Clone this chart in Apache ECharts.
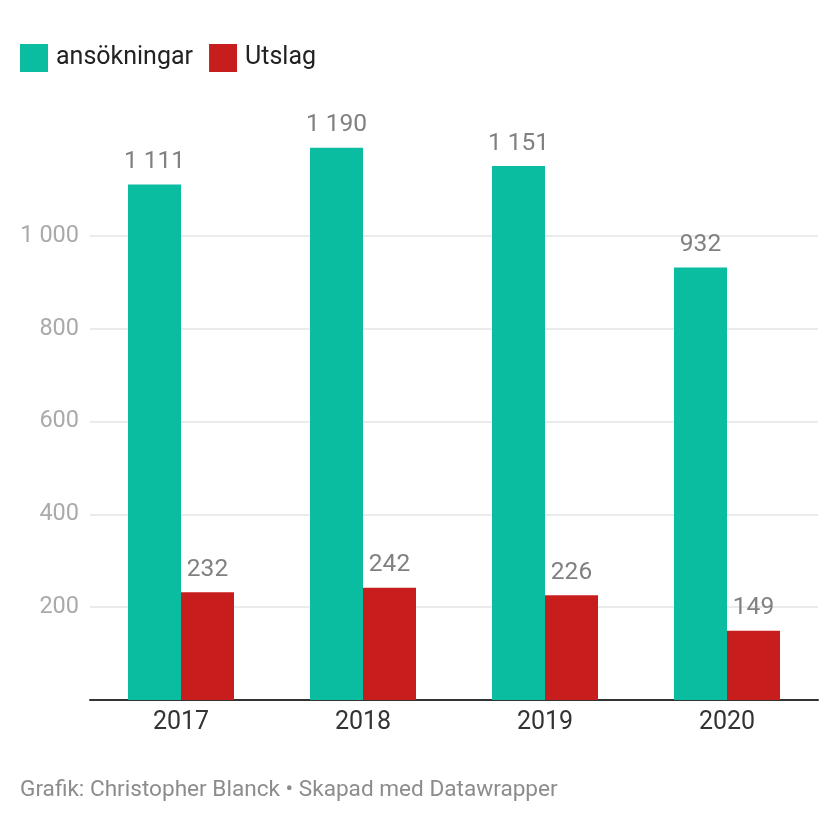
<!DOCTYPE html>
<html>
<head>
<meta charset="utf-8">
<script src="https://cdn.jsdelivr.net/npm/echarts@6/dist/echarts.min.js"></script>
<style>
  html, body { margin: 0; padding: 0; background: #fff; }
  #chart { width: 840px; height: 840px; }
</style>
</head>
<body>
<div id="chart"></div>
<script>
// data
const years = ['2017', '2018', '2019', '2020']
const ansokningar = [1111, 1190, 1151, 932]
const utslag = [232, 242, 226, 149]

// 1 111 with space as thousand separator
function fmt(v) {
    return String(v).replace(/\B(?=(\d{3})+(?!\d))/g, ' ')
}

let myChart = echarts.init(document.getElementById('chart'))

const labelStyle = {
    show: true,
    position: 'top',
    distance: 10,
    color: '#808080',
    fontSize: 24.5,
    fontFamily: 'Roboto',
    formatter: p => fmt(p.value)
}

option = {
    animation: false,
    textStyle: { fontFamily: 'Roboto' },
    legend: {
        left: 15,
        top: 39,
        itemWidth: 28,
        itemHeight: 28,
        itemGap: 16,
        icon: 'rect',
        textStyle: { fontSize: 25, color: '#222', padding: [0, 0, 0, 3] },
        data: ['ansökningar', 'Utslag']
    },
    graphic: [{
        type: 'text',
        left: 20,
        top: 779,
        style: {
            text: 'Grafik: Christopher Blanck • Skapad med Datawrapper',
            fill: '#8c8c8c',
            fontSize: 22.6,
            fontFamily: 'Roboto'
        }
    }],
    grid: { left: 90, right: 22, top: 143.2, bottom: 140 },
    xAxis: {
        type: 'category',
        data: years,
        axisTick: { show: false },
        axisLine: { lineStyle: { color: '#333', width: 2 } },
        axisLabel: { color: '#333', fontSize: 25, margin: 10 }
    },
    yAxis: {
        type: 'value',
        min: 0,
        max: 1200,
        interval: 200,
        axisLine: { show: false },
        axisTick: { show: false },
        axisLabel: {
            color: '#aaa',
            fontSize: 23.5,
            margin: 11,
            showMinLabel: false,
            showMaxLabel: false,
            formatter: v => fmt(v)
        },
        splitLine: {
            showMinLine: false,
            showMaxLine: false,
            lineStyle: { color: '#e4e4e4', width: 1.5 }
        }
    },
    series: [
        {
            name: 'ansökningar',
            type: 'bar',
            data: ansokningar,
            barWidth: 53,
            barGap: '0%',
            itemStyle: { color: '#0abda0' },
            label: labelStyle
        },
        {
            name: 'Utslag',
            type: 'bar',
            data: utslag,
            barWidth: 53,
            itemStyle: { color: '#c71e1d' },
            label: labelStyle
        }
    ]
};
myChart.setOption(option);
</script>
</body>
</html>
